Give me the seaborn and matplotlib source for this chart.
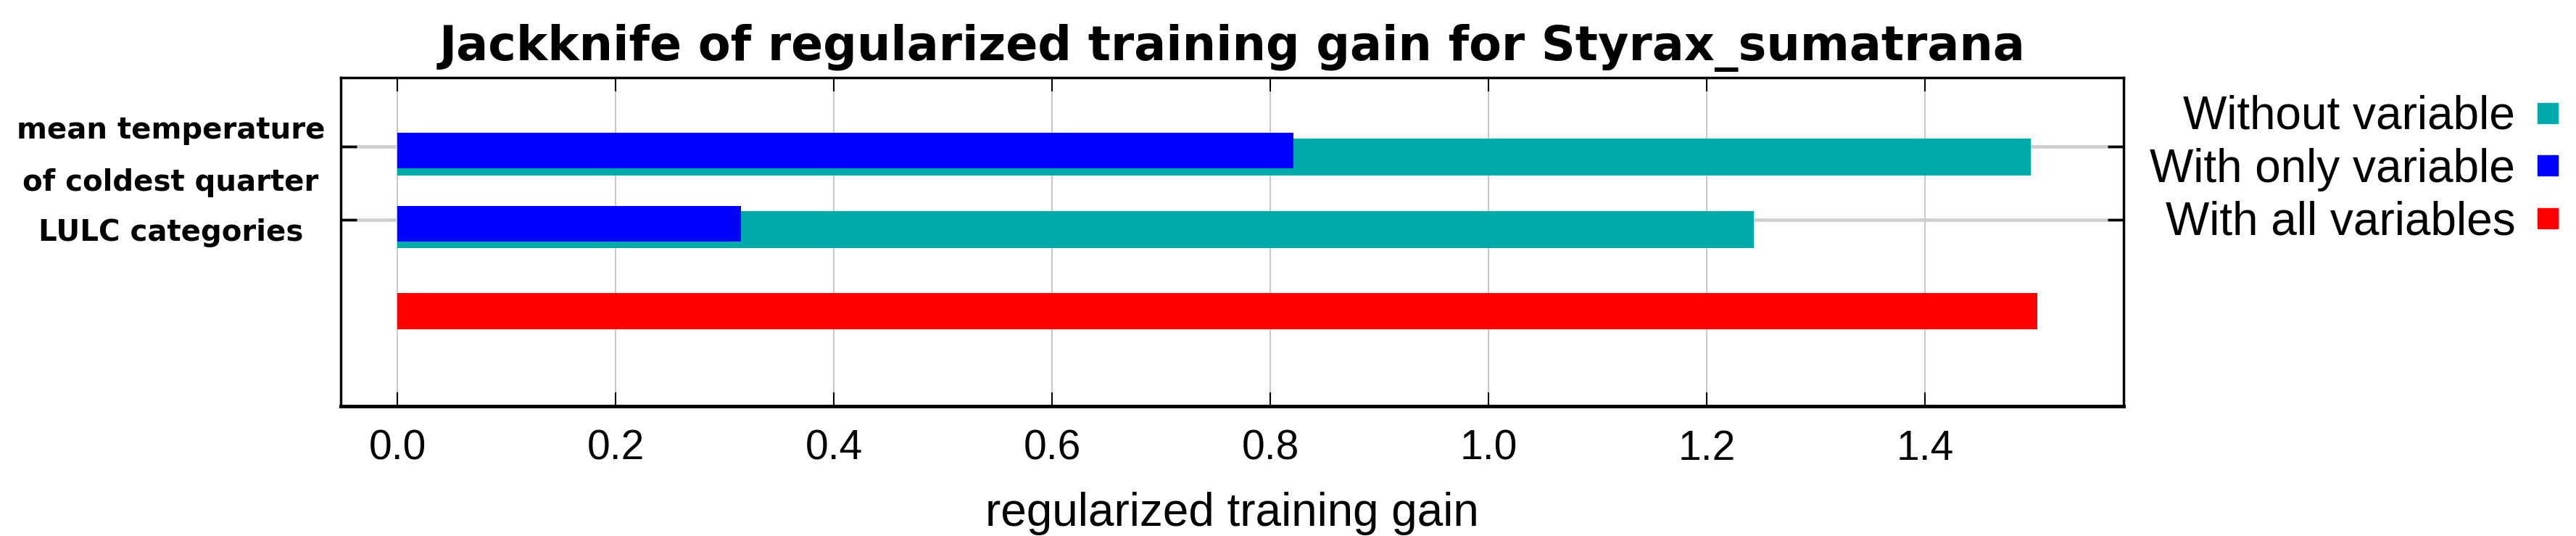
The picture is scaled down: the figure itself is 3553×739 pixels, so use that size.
import numpy as np
import pandas as pd
import matplotlib
matplotlib.use("Agg")
import matplotlib.pyplot as plt
from matplotlib.lines import Line2D
import seaborn as sns

# Data
variables = ["mean temperature\nof coldest quarter", "LULC categories"]
without_variable = [1.497, 1.243]
with_only_variable = [0.821, 0.315]
with_all_variables = [1.503]

series_names = ["Without variable", "With only variable", "With all variables"]
series_colors = ["#00AAAA", "#0000FF", "#FF0000"]

title = "Jackknife of regularized training gain for Styrax_sumatrana"
xlabel = "regularized training gain"
xticks = [0.0, 0.2, 0.4, 0.6, 0.8, 1.0, 1.2, 1.4]

sns.set_style("white")
plt.rcParams.update({
    "text.color": "black",
    "axes.labelcolor": "black",
    "xtick.color": "black",
    "ytick.color": "black",
})

LABEL_FONT = ["Liberation Sans", "DejaVu Sans"]

fig = plt.figure(figsize=(35.53, 7.39), dpi=100)
ax = fig.add_axes([0.1323, 0.2422, 0.8244 - 0.1323, 0.8552 - 0.2422])

rows = np.arange(len(variables))
df_without = pd.DataFrame({"gain": without_variable, "pos": rows + 0.144})
df_only = pd.DataFrame({"gain": with_only_variable, "pos": rows + 0.055})
df_all = pd.DataFrame({"gain": with_all_variables, "pos": [len(variables) + 0.259]})

# Draw bars (teal first, blue on top)
sns.barplot(data=df_without, x="gain", y="pos", orient="y", native_scale=True,
            width=0.507, color=series_colors[0], saturation=1, errorbar=None,
            linewidth=0, ax=ax)
sns.barplot(data=df_only, x="gain", y="pos", orient="y", native_scale=True,
            width=0.488, color=series_colors[1], saturation=1, errorbar=None,
            linewidth=0, ax=ax)
sns.barplot(data=df_all, x="gain", y="pos", orient="y", native_scale=True,
            width=0.498, color=series_colors[2], saturation=1, errorbar=None,
            linewidth=0, ax=ax)

ax.set_xlim(-0.052, 1.582)
ax.set_ylim(3.562, -0.945)

# Grid lines
ax.set_axisbelow(True)
ax.set_xticks(xticks)
ax.set_xticklabels([f"{t:.1f}" for t in xticks], fontfamily=LABEL_FONT, fontsize=41)
for t in xticks:
    ax.axvline(t, color="#c8c8c8", linewidth=1.5, zorder=0)
for r in rows:
    ax.axhline(r, color="#cfcfcf", linewidth=3.5, zorder=0)

# Y ticks: marks at rows, labels placed beside the bars
ax.set_yticks(rows)
ax.set_yticklabels([])
label_pos = rows + 0.144
label_pos[0] -= 0.21  # two-line label sits a bit higher
ax.set_yticks(label_pos, minor=True)
ax.set_yticklabels(variables, minor=True, fontfamily="DejaVu Sans",
                   fontweight="bold", fontsize=29)
for lab in ax.get_yticklabels(minor=True):
    lab.set_horizontalalignment("center")
    lab.set_multialignment("center")
    lab.set_linespacing(2.05)

ax.tick_params(axis="x", which="major", direction="in", top=True, bottom=True,
               length=14, width=1.5, pad=23)
ax.tick_params(axis="y", which="major", direction="in", left=True, right=True,
               length=16, width=2.5)
ax.tick_params(axis="y", which="minor", length=0, pad=169)

for side, spine in ax.spines.items():
    spine.set_visible(True)
    spine.set_color("black")
    spine.set_linewidth(2.5)
ax.spines["bottom"].set_linewidth(3.5)

ax.set_ylabel("")
ax.set_xlabel(xlabel, fontfamily=LABEL_FONT, fontsize=46, labelpad=23)
ax.set_title(title, fontfamily="DejaVu Sans", fontweight="bold", fontsize=47, pad=17)

# Legend with labels on the left, markers on the right
handles = [Line2D([], [], marker="s", linestyle="none", markersize=20,
                  markerfacecolor=c, markeredgecolor=c) for c in series_colors]
fig.legend(handles, series_names, loc="upper right",
           bbox_to_anchor=(3530 / 3553, 1 - 131 / 739),
           markerfirst=False, frameon=False, borderpad=0, borderaxespad=0,
           handlelength=0.5, handletextpad=0.45, labelspacing=0.2,
           prop={"family": LABEL_FONT, "size": 46})

fig.savefig("out.png", dpi=100)
